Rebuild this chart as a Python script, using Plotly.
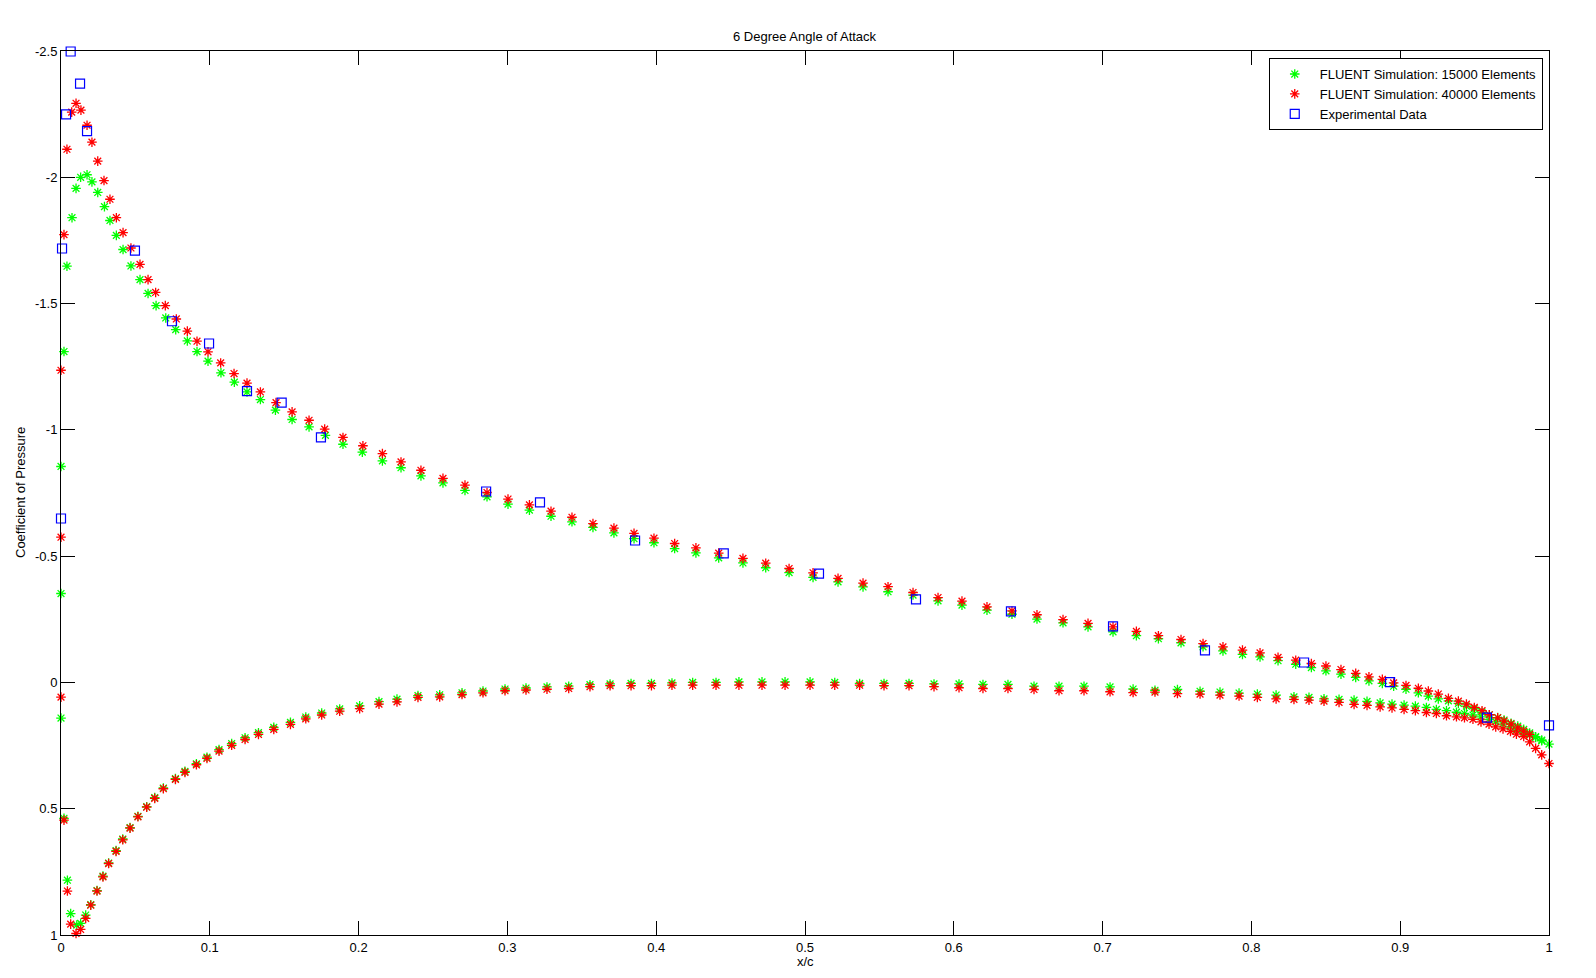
import plotly.graph_objects as go

# ---------------- data ----------------
title_text = "6 Degree Angle of Attack"
x_label = "x/c"
y_label = "Coefficient of Pressure"
legend_names = ["FLUENT Simulation: 15000 Elements",
                "FLUENT Simulation: 40000 Elements",
                "Experimental Data"]

x_ticks = [0, 0.1, 0.2, 0.3, 0.4, 0.5, 0.6, 0.7, 0.8, 0.9, 1]
x_tick_text = ["0", "0.1", "0.2", "0.3", "0.4", "0.5", "0.6", "0.7", "0.8", "0.9", "1"]
y_ticks = [-2.5, -2, -1.5, -1, -0.5, 0, 0.5, 1]
y_tick_text = ["-2.5", "-2", "-1.5", "-1", "-0.5", "0", "0.5", "1"]

# 15000 elements, upper surface
g15_up_x = [0.0, 0.0, 0.002, 0.004, 0.0074, 0.0101, 0.0132, 0.0175, 0.0208, 0.0247,
            0.0292, 0.0329, 0.0372, 0.0417, 0.047, 0.0531, 0.0585, 0.0639, 0.0704, 0.0771,
            0.0849, 0.0914, 0.0988, 0.1075, 0.1165, 0.125, 0.134, 0.1441, 0.1553, 0.1667,
            0.1777, 0.1895, 0.2025, 0.216, 0.2285, 0.2419, 0.2567, 0.2715, 0.2863, 0.3004,
            0.3148, 0.3293, 0.3434, 0.3575, 0.3716, 0.3851, 0.3985, 0.4124, 0.4267, 0.442,
            0.4583, 0.4736, 0.4893, 0.5054, 0.5222, 0.539, 0.5558, 0.5726, 0.5894, 0.6055,
            0.6223, 0.6391, 0.6559, 0.6734, 0.6902, 0.707, 0.7227, 0.7375, 0.7527, 0.7675,
            0.7809, 0.794, 0.8058, 0.8179, 0.8298, 0.8403, 0.8501, 0.8602, 0.8701, 0.879,
            0.888, 0.8956, 0.9039, 0.9122, 0.9189, 0.9256, 0.9324, 0.9391, 0.9445, 0.9498,
            0.955, 0.9599, 0.9655, 0.9698, 0.9745, 0.979, 0.983, 0.987, 0.991, 0.9951, 1.0]
g15_up_cp = [-0.352, -0.855, -1.31, -1.648, -1.84, -1.956, -2.0, -2.01, -1.982, -1.94,
             -1.884, -1.829, -1.77, -1.714, -1.649, -1.595, -1.54, -1.492, -1.443, -1.397,
             -1.352, -1.31, -1.272, -1.226, -1.189, -1.15, -1.12, -1.078, -1.041, -1.012,
             -0.978, -0.943, -0.912, -0.877, -0.850, -0.818, -0.790, -0.760, -0.735, -0.706,
             -0.682, -0.658, -0.636, -0.614, -0.592, -0.569, -0.553, -0.530, -0.513, -0.493,
             -0.473, -0.454, -0.435, -0.416, -0.398, -0.378, -0.359, -0.346, -0.323, -0.306,
             -0.286, -0.27, -0.251, -0.236, -0.22, -0.2, -0.185, -0.173, -0.157, -0.141,
             -0.125, -0.111, -0.101, -0.086, -0.072, -0.059, -0.046, -0.033, -0.02, -0.006,
             0.004, 0.015, 0.027, 0.041, 0.054, 0.065, 0.073, 0.083, 0.094, 0.104,
             0.118, 0.128, 0.139, 0.149, 0.162, 0.173, 0.186, 0.2, 0.215, 0.228, 0.244]

# 15000 elements, lower surface
g15_lo_x = [0.0, 0.002, 0.0043, 0.0065, 0.0106, 0.0132, 0.0166, 0.02, 0.0242, 0.0282,
            0.032, 0.037, 0.0415, 0.0464, 0.0517, 0.0576, 0.063, 0.0688, 0.0769, 0.0833,
            0.091, 0.0981, 0.1062, 0.1147, 0.1237, 0.1327, 0.143, 0.1542, 0.1645, 0.1752,
            0.1873, 0.2007, 0.2137, 0.2258, 0.2399, 0.2545, 0.2695, 0.2836, 0.2984, 0.3125,
            0.3266, 0.3412, 0.3555, 0.369, 0.3831, 0.3968, 0.4106, 0.4245, 0.4402, 0.4556,
            0.4711, 0.4866, 0.5034, 0.52, 0.5367, 0.5531, 0.5699, 0.5867, 0.6035, 0.6196,
            0.6364, 0.6539, 0.6707, 0.6875, 0.705, 0.7205, 0.7352, 0.7503, 0.7655, 0.7789,
            0.7917, 0.804, 0.8166, 0.8286, 0.8387, 0.8488, 0.8589, 0.869, 0.8777, 0.8865,
            0.8945, 0.9026, 0.9102, 0.9176, 0.9243, 0.9311, 0.9378, 0.9432, 0.9489, 0.9543,
            0.9597, 0.9642, 0.9691, 0.9741, 0.9781, 0.983, 0.987, 0.991, 0.9951]
g15_lo_cp = [0.141, 0.538, 0.783, 0.915, 0.961, 0.954, 0.921, 0.88, 0.824, 0.767,
             0.715, 0.666, 0.62, 0.575, 0.53, 0.492, 0.456, 0.418, 0.381, 0.352,
             0.322, 0.296, 0.266, 0.242, 0.219, 0.199, 0.178, 0.158, 0.137, 0.121,
             0.105, 0.093, 0.076, 0.066, 0.052, 0.049, 0.041, 0.034, 0.026, 0.022,
             0.018, 0.015, 0.009, 0.006, 0.004, 0.004, 0.002, 0.0, 0.0, -0.002,
             -0.002, -0.002, -0.002, 0.0, 0.004, 0.004, 0.004, 0.006, 0.006, 0.008,
             0.008, 0.015, 0.015, 0.015, 0.018, 0.026, 0.031, 0.028, 0.035, 0.038,
             0.042, 0.046, 0.05, 0.057, 0.059, 0.065, 0.067, 0.07, 0.075, 0.081,
             0.086, 0.09, 0.094, 0.099, 0.107, 0.112, 0.118, 0.123, 0.129, 0.136,
             0.146, 0.156, 0.165, 0.176, 0.189, 0.2, 0.209, 0.218, 0.231]

# 40000 elements, upper surface
g40_up_x = [0.0, 0.0, 0.002, 0.004, 0.0072, 0.0101, 0.0134, 0.0175, 0.0208, 0.0247,
            0.0289, 0.0329, 0.0372, 0.0417, 0.047, 0.0531, 0.0585, 0.0636, 0.0701, 0.0775,
            0.0849, 0.0914, 0.0988, 0.1073, 0.1163, 0.125, 0.134, 0.1445, 0.1553, 0.1667,
            0.1772, 0.1895, 0.2029, 0.216, 0.2285, 0.2419, 0.2567, 0.2715, 0.2863, 0.3004,
            0.3148, 0.3293, 0.3434, 0.3575, 0.3716, 0.3851, 0.3985, 0.4124, 0.4267, 0.442,
            0.4583, 0.4736, 0.4893, 0.5054, 0.5222, 0.539, 0.5558, 0.5726, 0.5894, 0.6055,
            0.6223, 0.6391, 0.6559, 0.6734, 0.6902, 0.707, 0.7227, 0.7375, 0.7527, 0.7675,
            0.7809, 0.794, 0.8058, 0.8179, 0.8298, 0.8403, 0.8501, 0.8602, 0.8701, 0.879,
            0.888, 0.8956, 0.9039, 0.9122, 0.9189, 0.9256, 0.9324, 0.9391, 0.9445, 0.9498,
            0.955, 0.9599, 0.9655, 0.9698, 0.9745, 0.979, 0.983, 0.987]
g40_up_cp = [-0.575, -1.236, -1.773, -2.111, -2.258, -2.293, -2.266, -2.206, -2.139, -2.064,
             -1.987, -1.913, -1.84, -1.781, -1.72, -1.655, -1.595, -1.544, -1.492, -1.439,
             -1.391, -1.351, -1.309, -1.265, -1.223, -1.185, -1.15, -1.108, -1.071, -1.038,
             -1.003, -0.97, -0.937, -0.906, -0.873, -0.84, -0.808, -0.781, -0.752, -0.726,
             -0.703, -0.678, -0.654, -0.629, -0.611, -0.59, -0.571, -0.55, -0.533, -0.512,
             -0.491, -0.472, -0.451, -0.434, -0.412, -0.393, -0.379, -0.356, -0.336, -0.322,
             -0.299, -0.283, -0.268, -0.249, -0.234, -0.22, -0.202, -0.185, -0.17, -0.154,
             -0.141, -0.128, -0.117, -0.099, -0.088, -0.075, -0.065, -0.051, -0.036, -0.022,
             -0.012, 0.002, 0.012, 0.023, 0.034, 0.046, 0.063, 0.074, 0.086, 0.099,
             0.112, 0.128, 0.14, 0.153, 0.165, 0.18, 0.193, 0.206]

# 40000 elements, lower surface
g40_lo_x = [0.0, 0.002, 0.0043, 0.0065, 0.0101, 0.0132, 0.0166, 0.02, 0.0242, 0.0282,
            0.032, 0.037, 0.0415, 0.0464, 0.0517, 0.0576, 0.063, 0.0688, 0.0769, 0.0833,
            0.091, 0.0981, 0.1062, 0.1147, 0.1237, 0.1327, 0.143, 0.1542, 0.1645, 0.1752,
            0.1873, 0.2007, 0.2137, 0.2258, 0.2399, 0.2545, 0.2695, 0.2836, 0.2984, 0.3125,
            0.3266, 0.3412, 0.3555, 0.369, 0.3831, 0.3968, 0.4106, 0.4245, 0.4402, 0.4556,
            0.4711, 0.4866, 0.5034, 0.52, 0.5367, 0.5531, 0.5699, 0.5867, 0.6035, 0.6196,
            0.6364, 0.6539, 0.6707, 0.6875, 0.705, 0.7205, 0.7352, 0.7503, 0.7655, 0.7789,
            0.7917, 0.804, 0.8166, 0.8286, 0.8387, 0.8488, 0.8589, 0.869, 0.8777, 0.8865,
            0.8945, 0.9026, 0.9102, 0.9176, 0.9243, 0.9311, 0.9378, 0.9432, 0.9489, 0.9543,
            0.9597, 0.9642, 0.9691, 0.9741, 0.9781, 0.983, 0.987, 0.991, 0.9951, 1.0]
g40_lo_cp = [0.058, 0.545, 0.826, 0.957, 0.994, 0.978, 0.934, 0.882, 0.826, 0.77,
             0.717, 0.669, 0.623, 0.577, 0.532, 0.494, 0.459, 0.421, 0.384, 0.356,
             0.326, 0.301, 0.272, 0.249, 0.226, 0.206, 0.186, 0.166, 0.144, 0.129,
             0.114, 0.104, 0.086, 0.077, 0.059, 0.057, 0.048, 0.041, 0.033, 0.03,
             0.027, 0.024, 0.017, 0.013, 0.013, 0.013, 0.011, 0.011, 0.011, 0.011,
             0.011, 0.011, 0.011, 0.011, 0.011, 0.013, 0.013, 0.017, 0.021, 0.024,
             0.024, 0.028, 0.033, 0.033, 0.037, 0.04, 0.038, 0.044, 0.046, 0.05,
             0.054, 0.059, 0.065, 0.067, 0.07, 0.074, 0.079, 0.087, 0.091, 0.097,
             0.101, 0.107, 0.112, 0.119, 0.123, 0.132, 0.136, 0.14, 0.146, 0.156,
             0.165, 0.176, 0.184, 0.194, 0.205, 0.214, 0.235, 0.261, 0.287, 0.321]

# experimental data
exp_x = [0.0, 0.0007, 0.0034, 0.0065, 0.0128, 0.0175, 0.0497, 0.0746, 0.0995, 0.125,
         0.1483, 0.1747, 0.2857, 0.3219, 0.3858, 0.4454, 0.5094, 0.5746, 0.6384, 0.707,
         0.7688, 0.8354, 0.8932, 0.9583, 1.0]
exp_cp = [-0.649, -1.718, -2.249, -2.498, -2.371, -2.183, -1.71, -1.43, -1.342, -1.153,
          -1.108, -0.97, -0.756, -0.713, -0.562, -0.511, -0.431, -0.329, -0.281, -0.222,
          -0.127, -0.079, -0.001, 0.139, 0.17]

# ---------------- figure ----------------
FONT = "Liberation Sans, Arial, Helvetica, sans-serif"
FS = 13

fig = go.Figure()
fig.add_trace(go.Scatter(
    x=g15_up_x + g15_lo_x, y=g15_up_cp + g15_lo_cp, mode="markers",
    name=legend_names[0], cliponaxis=False,
    marker=dict(symbol="asterisk-open", size=8, color="#00ff00",
                line=dict(color="#00ff00", width=1.3))))
fig.add_trace(go.Scatter(
    x=g40_up_x + g40_lo_x, y=g40_up_cp + g40_lo_cp, mode="markers",
    name=legend_names[1], cliponaxis=False,
    marker=dict(symbol="asterisk-open", size=8, color="#ff0000",
                line=dict(color="#ff0000", width=1.3))))
fig.add_trace(go.Scatter(
    x=exp_x, y=exp_cp, mode="markers",
    name=legend_names[2], cliponaxis=False,
    marker=dict(symbol="square-open", size=9, color="#0000ff",
                line=dict(color="#0000ff", width=1.2))))

axis_common = dict(
    showline=True, linecolor="black", linewidth=1, mirror="ticks",
    ticks="inside", ticklen=14, tickwidth=1, tickcolor="black",
    showgrid=False, zeroline=False,
    tickfont=dict(family=FONT, size=FS, color="black"),
)

fig.update_xaxes(range=[0, 1], tickmode="array", tickvals=x_ticks,
                 ticktext=x_tick_text, **axis_common)
fig.update_yaxes(range=[1, -2.5], tickmode="array", tickvals=y_ticks,
                 ticktext=y_tick_text, **axis_common)

# page body has an 8 px margin, so the figure starts at (8, 8)
fig.update_layout(
    width=1588, height=970,
    margin=dict(l=53, r=47, t=43, b=43, pad=0),
    paper_bgcolor="white", plot_bgcolor="white",
    font=dict(family=FONT, size=FS, color="black"),
    showlegend=True,
    legend=dict(x=0.9958, xanchor="right", y=0.992, yanchor="top",
                bordercolor="black", borderwidth=1, bgcolor="white",
                font=dict(family=FONT, size=FS, color="black"),
                itemwidth=40, tracegroupgap=0),
    annotations=[
        dict(text=title_text, xref="paper", yref="paper", x=0.5, y=1 + 15 / 884,
             xanchor="center", yanchor="middle", showarrow=False,
             font=dict(family=FONT, size=FS, color="black")),
        dict(text=x_label, xref="paper", yref="paper", x=0.5, y=-27 / 884,
             xanchor="center", yanchor="middle", showarrow=False,
             font=dict(family=FONT, size=FS, color="black")),
        dict(text=y_label, xref="paper", yref="paper", x=-41 / 1488, y=0.5,
             xanchor="center", yanchor="middle", textangle=-90, showarrow=False,
             font=dict(family=FONT, size=FS, color="black")),
    ],
)

fig.write_html("out.html")
